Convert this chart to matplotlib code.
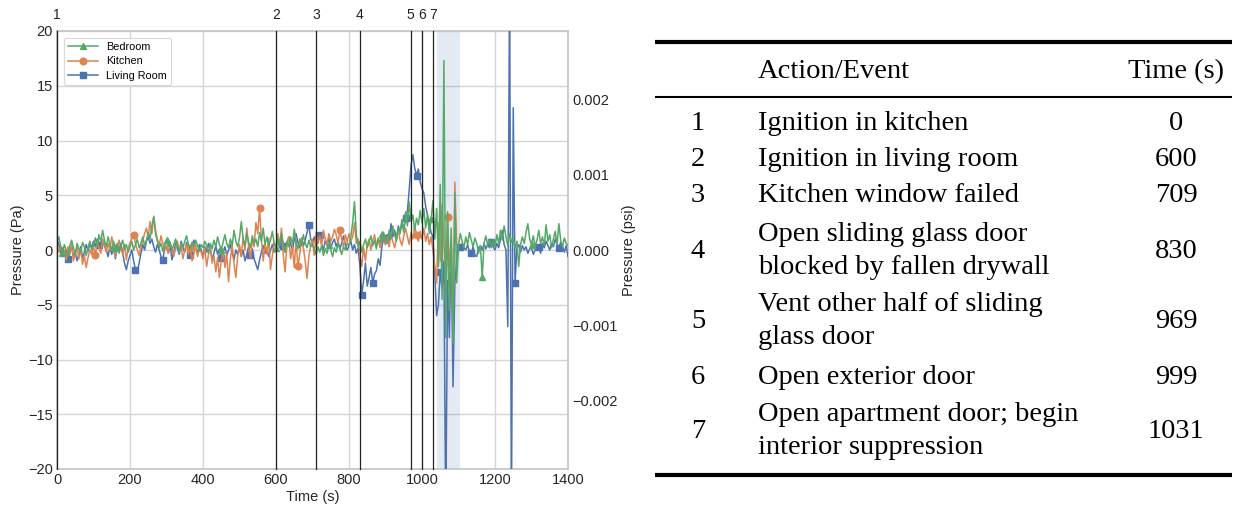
import numpy as np
import matplotlib
matplotlib.use("Agg")
import matplotlib.pyplot as plt

plt.rcParams['font.family'] = ['Liberation Sans', 'DejaVu Sans']

# ---------------- data ----------------
time_step = 5
time_s = np.arange(0, 1401, time_step)

living_room = [
    1.0, 0.5, -0.3, 0.2, -0.5, 0.0, -0.8, -0.3, 0.4, -0.6, -0.2, -1.0, -0.4, 0.3, -0.7, -0.2, 0.5, -0.1, 0.6, 0.2,
    0.8, 0.3, 1.0, 0.5, 0.2, 0.9, 0.4, 0.0, -0.6, 0.3, -0.4, 0.2, -0.8, 0.5, 0.0, 0.6, -0.3, -1.2, -1.8, -1.0,
    -0.5, 0.0, -1.0, -1.8, -2.0, -1.2, -0.3, 0.5, 0.0, 0.8, 1.2, 0.6, 1.0, 0.3, -0.2, 0.5, 0.0, -0.6, -0.9, 0.2,
    0.3, -0.3, 0.5, -0.9, -0.2, 0.6, 0.1, -0.4, 0.8, 0.2, -0.2, 0.7, 0.0, -0.5, 0.4, 0.9, 0.2, -0.3, 0.5, 0.0,
    -0.6, 0.3, -0.2, 0.6, 0.0, -0.8, -0.3, 0.4, -0.4, 0.1, -0.7, -0.2, 0.3, -0.5, 0.0, 0.5, -0.3, -0.9, 0.0, -0.4,
    0.2, -0.6, 0.0, -1.0, -0.4, 0.3, -0.5, 0.1, -0.8, -1.3, -1.8, -0.9, -0.2, 0.4, -0.3, 0.2, -0.6, 0.0, 0.5, -0.2,
    0.3, 0.8, 0.2, 1.0, 0.4, -0.2, 0.6, 1.2, 0.5, 0.0, 0.9, 1.5, 0.7, 0.2, 1.1, 0.4, 0.9, 1.6, 2.3, 1.0,
    0.6, 1.2, 0.3, 0.8, 1.4, 0.5, 0.0, 0.9, 0.4, 1.1, 0.2, 0.7, 1.0, 0.3, 0.8, 0.1, 0.6, 1.3, 0.5, 0.0,
    0.4, 0.8, 0.0, 0.5, -0.3, 0.2, -1.5, -4.1, -2.8, -1.2, -3.3, -2.5, -1.6, -3.0, -2.2, -1.9, -0.8, -1.4, 0.3, 1.1,
    0.5, 1.4, 0.8, 2.4, 1.2, 1.8, 1.0, 2.2, 1.6, 2.5, 1.9, 2.9, 3.5, 5.5, 7.8, 8.7, 7.5, 6.8, 7.4, 6.2,
    5.6, 5.2, 4.0, 3.2, 2.4, 1.6, 1.2, -2.0, -6.0, -5.0, -2.0, -3.5, -1.0, -25.0, -3.0, -8.0, 1.0, -12.5, -3.0, -1.0,
    0.5, 0.3, 0.6, 0.2, 0.0, 0.5, -0.2, -0.3, 0.3, -0.5, -0.6, 0.2, 0.4, 0.0, 0.6, 0.1, 0.5, 0.2, 0.7, 0.3,
    0.0, 0.6, 0.2, 1.0, 1.8, 0.5, 0.0, -7.0, 25.0, -25.0, 13.0, -3.0, 0.2, 0.5, -0.2, 0.4, 0.0, 0.3, -0.3, 0.1,
    0.2, -0.4, 0.0, 0.5, 0.3, -0.3, 0.6, 0.2, 0.8, 0.4, 0.0, 0.6, 0.3, 1.0, 0.5, 0.2, 0.7, 0.3, -0.2, 0.4,
    -0.6,
]

bedroom = [
    0.8, 1.2, 0.3, -0.3, 0.5, 0.0, -0.6, 0.4, 0.9, 0.2, -0.4, 0.6, 0.1, -0.2, 0.7, 0.3, -0.5, 0.2, 0.8, 0.0,
    0.5, 1.1, 0.4, 1.4, 0.7, 1.8, 0.9, 0.3, 1.2, 0.5, 0.0, 0.8, 0.2, 0.6, -0.3, 0.4, 0.9, 0.1, 0.5, -0.2,
    0.3, 0.8, 0.0, 0.5, 1.0, 0.2, 0.6, 1.2, 0.4, 0.9, 1.6, 1.0, 2.2, 3.0, 1.5, 0.8, 0.2, 0.6, -0.1, 0.4,
    0.9, 0.3, 0.7, 0.0, 0.5, 1.0, 0.4, -0.2, 0.6, 0.2, 0.8, 1.3, 0.5, 0.1, 0.7, 0.3, 0.9, 0.4, -0.1, 0.5,
    0.2, 0.8, 0.4, -0.3, 0.6, 0.1, 0.9, 0.3, 1.2, 0.5, 0.0, 0.7, 1.4, 0.6, 0.2, 1.0, 0.4, 1.8, 0.8, 0.3,
    1.1, 2.6, 1.0, 0.4, 1.5, 0.7, 0.2, 1.3, 0.6, 1.0, 0.3, 1.6, 0.8, 2.0, 0.5, 1.2, 0.4, 0.9, 1.7, 0.6,
    0.2, 1.0, 0.4, 1.5, 0.6, -0.2, 0.8, 0.3, 1.2, 0.5, 1.9, 0.7, 0.1, 1.0, 0.4, 1.4, 0.6, 0.2, 0.9, 0.3,
    0.5, 0.0, -0.4, 0.3, -0.2, 0.4, -0.5, 0.1, -0.3, 0.5, 0.0, -0.6, 0.2, -0.2, 0.6, 0.1, -0.4, 0.3, 0.0, 0.6,
    0.4, 1.2, 2.5, 4.4, 1.5, 0.3, 0.8, -0.2, 0.5, 1.0, 0.2, 0.7, 1.3, 0.4, 0.9, 0.1, 1.1, 0.6, 1.5, 0.8,
    1.2, 0.6, 1.8, 1.0, 2.2, 1.4, 0.8, 2.0, 1.5, 2.8, 1.6, 3.5, 2.2, 4.4, 2.6, 3.2, 1.8, 2.9, 2.3, 3.6,
    2.5, 3.8, 2.0, 3.2, 1.5, 2.8, 4.5, 1.0, 3.8, -1.5, 6.0, -4.5, 17.3, -8.0, 3.5, -5.5, 2.0, -8.5, 5.2, -3.0,
    0.5, 1.5, 0.8, 0.2, 1.2, 0.5, 1.6, 0.9, 0.3, 1.1, 0.6, -0.3, 0.4, -2.5, 0.6, 1.3, 0.4, 1.0, 0.2, 0.9,
    0.3, 1.4, 0.6, 1.8, 0.9, 2.2, 1.2, 0.4, 1.5, 0.7, 1.1, 0.2, 0.8, -1.5, 0.5, 1.2, 0.6, 1.6, 2.4, 1.0,
    0.5, 1.3, 0.3, 0.9, 1.8, 0.6, 1.2, 0.4, 2.3, 0.8, 1.4, 0.2, 1.0, 1.7, 0.5, 2.4, 0.9, 0.3, 1.1, 0.6,
    0.4,
]

kitchen = [
    0.6, -0.2, 0.4, -0.6, 0.0, -0.9, 0.3, -0.4, 0.5, -1.0, -0.3, 0.2, -0.8, 0.1, -1.3, -0.5, -1.6, -0.7, 0.0, -0.4,
    0.3, -0.5, 0.8, 0.2, -0.3, 1.0, 0.4, -0.2, 0.6, 0.0, 1.2, 0.5, -0.6, 0.3, 0.9, 0.1, -0.4, 0.5, -0.9, 0.2,
    0.7, 1.0, 1.4, 0.6, 0.0, -0.5, 0.3, 0.9, 1.5, 2.0, 1.2, 2.6, 1.5, 3.1, 1.8, 1.0, 0.4, 1.3, 0.6, 0.0,
    0.4, -0.3, 0.6, 0.1, -0.6, 0.2, 0.8, -0.2, 0.3, -0.8, 0.0, 0.5, -0.4, 0.2, -1.0, -0.3, 0.4, -0.6, 0.1, -0.2,
    -0.8, 0.2, -1.5, -0.4, 0.3, -1.2, -0.5, -2.0, -0.7, -2.5, -1.0, 0.0, -1.6, -0.3, -2.9, -0.8, 0.4, -1.2, -2.5, -0.6,
    0.5, -0.6, 1.2, 0.0, 2.0, 0.4, -0.8, 1.0, 0.3, 2.5, 1.5, 3.8, 1.0, -1.0, 0.6, -0.4, 1.1, -1.8, -0.5, 0.7,
    0.2, 1.5, 0.4, 2.0, -0.5, -2.0, 0.6, 1.2, -0.8, 0.3, -1.6, 0.9, -1.5, -0.4, 1.0, 0.2, -1.0, -2.6, -0.6, 0.4,
    1.0, -0.5, 1.6, 0.6, 1.3, 0.4, 1.8, 1.0, 0.5, 1.5, 0.8, 1.2, 1.9, 1.4, 0.6, 1.8, 1.0, 0.3, 1.4, 0.7,
    1.5, 0.8, 1.2, 2.5, 0.6, 1.0, -0.5, -1.5, 0.2, -1.0, 0.5, 1.0, 0.0, 0.8, 1.4, 0.4, 1.0, 0.2, 0.8, 1.6,
    0.6, 1.2, 0.3, 1.5, 0.8, 0.2, 1.0, 1.8, 0.9, 0.4, 1.3, 2.0, 1.2, 0.5, 1.6, 1.0, 2.2, 1.4, 0.8, 1.7,
    1.0, 2.0, 0.8, 1.5, 0.5, 1.2, 0.0, -1.5, -3.0, 2.5, -1.0, 4.2, 0.5, -2.0, 3.0, -1.5, 1.0, -7.3, 6.2, 0.5,
]

# marker positions (seconds)
living_marker_t = [30, 115, 215, 290, 365, 450, 530, 620, 690, 720, 835, 865, 895, 955, 985,
                   1050, 1070, 1105, 1135, 1190, 1255, 1320, 1375]
kitchen_marker_t = [105, 210, 365, 555, 660, 775, 985, 1070]
bedroom_marker_t = [15, 160, 300, 450, 600, 745, 890, 1025, 1165, 1300]

# events
event_nums = ['1', '2', '3', '4', '5', '6', '7']
event_times = [0, 600, 709, 830, 969, 999, 1031]
event_desc = ['Ignition in kitchen',
              'Ignition in living room',
              'Kitchen window failed',
              'Open sliding glass door\nblocked by fallen drywall',
              'Vent other half of sliding\nglass door',
              'Open exterior door',
              'Open apartment door; begin\ninterior suppression']
suppression_span = (1040, 1105)

PA_TO_PSI = 0.000145038

# ---------------- figure ----------------
W, H = 1246, 508
fig = plt.figure(figsize=(W / 100, H / 100), dpi=100)
ax = fig.add_axes([57 / W, 39 / H, 511 / W, 438 / H])

c_blue, c_orange, c_green = '#4C72B0', '#DD8452', '#55A868'
t_list = time_s.tolist()

def idx(ts):
    return [t_list.index(v) for v in ts]

ax.axvspan(*suppression_span, color=c_blue, alpha=0.15, lw=0, zorder=1)

l_liv, = ax.plot(time_s[:len(living_room)], living_room, color=c_blue, lw=1.1,
                 marker='s', ms=4.8, markevery=idx(living_marker_t), zorder=3, label='Living Room')
l_kit, = ax.plot(time_s[:len(kitchen)], kitchen, color=c_orange, lw=1.1,
                 marker='o', ms=4.8, markevery=idx(kitchen_marker_t), zorder=4, label='Kitchen')
l_bed, = ax.plot(time_s[:len(bedroom)], bedroom, color=c_green, lw=1.1,
                 marker='^', ms=4.8, markevery=idx(bedroom_marker_t), zorder=5, label='Bedroom')

for n, et in zip(event_nums, event_times):
    ax.axvline(et, color='#222222', lw=0.9, zorder=6, clip_on=False)
    ax.text(et, 1.036, n, transform=ax.get_xaxis_transform(), ha='center', va='center',
            fontsize=10, color='#222222')

ax.set_xlim(0, 1400)
ax.set_ylim(-20, 20)
ax.set_xticks(np.arange(0, 1401, 200))
ax.set_yticks(np.arange(-20, 21, 5))
ax.grid(True, color='#d5d5d5', lw=1.0, zorder=0)
ax.set_axisbelow(True)
for s in ax.spines.values():
    s.set_color('#c8c8c8')
    s.set_linewidth(1.3)
ax.tick_params(length=0, labelsize=10.5, colors='#262626', pad=3)
ax.set_xlabel('Time (s)', fontsize=10.5, color='#262626', labelpad=2)
ax.set_ylabel('Pressure (Pa)', fontsize=10.5, color='#262626', labelpad=2)

leg = ax.legend(handles=[l_bed, l_kit, l_liv], loc='upper left', fontsize=7.8,
                frameon=True, handlelength=2.7, borderpad=0.4, labelspacing=0.4,
                handletextpad=0.8, bbox_to_anchor=(0.003, 0.997), fancybox=True)
leg.get_frame().set_edgecolor('#d0d0d0')
leg.get_frame().set_linewidth(0.8)

ax2 = ax.twinx()
ax2.set_ylim(-20 * PA_TO_PSI, 20 * PA_TO_PSI)
ax2.set_yticks([-0.002, -0.001, 0.0, 0.001, 0.002])
ax2.set_yticklabels(['\u22120.002', '\u22120.001', '0.000', '0.001', '0.002'])
ax2.tick_params(length=0, labelsize=10.5, colors='#262626', pad=3)
for s in ax2.spines.values():
    s.set_visible(False)
ax2.set_ylabel('Pressure (psi)', fontsize=10.5, color='#262626', labelpad=3)

# ---------------- table ----------------
tab = fig.add_axes([0, 0, 1, 1], zorder=-1)
tab.set_xlim(0, W)
tab.set_ylim(H, 0)
tab.axis('off')

serif = ['Liberation Serif', 'DejaVu Serif']
fs = 20.5
x_num, x_desc, x_time = 698, 758, 1176
tab.plot([655, 1232], [42, 42], color='black', lw=3.0, solid_capstyle='butt')
tab.plot([655, 1232], [97, 97], color='black', lw=1.5, solid_capstyle='butt')
tab.plot([655, 1232], [475, 475], color='black', lw=3.0, solid_capstyle='butt')
tab.text(x_desc, 72, 'Action/Event', family=serif, fontsize=fs, ha='left', va='center')
tab.text(x_time, 72, 'Time (s)', family=serif, fontsize=fs, ha='center', va='center')

row_y = [124, 160, 195, 251, 321, 377, 431]
for y, n, d, et in zip(row_y, event_nums, event_desc, event_times):
    tab.text(x_num, y, n, family=serif, fontsize=fs, ha='center', va='center')
    tab.text(x_desc, y, d, family=serif, fontsize=fs, ha='left', va='center',
             multialignment='left', linespacing=1.4)
    tab.text(x_time, y, str(et), family=serif, fontsize=fs, ha='center', va='center')

fig.savefig('out.png', dpi=100)
